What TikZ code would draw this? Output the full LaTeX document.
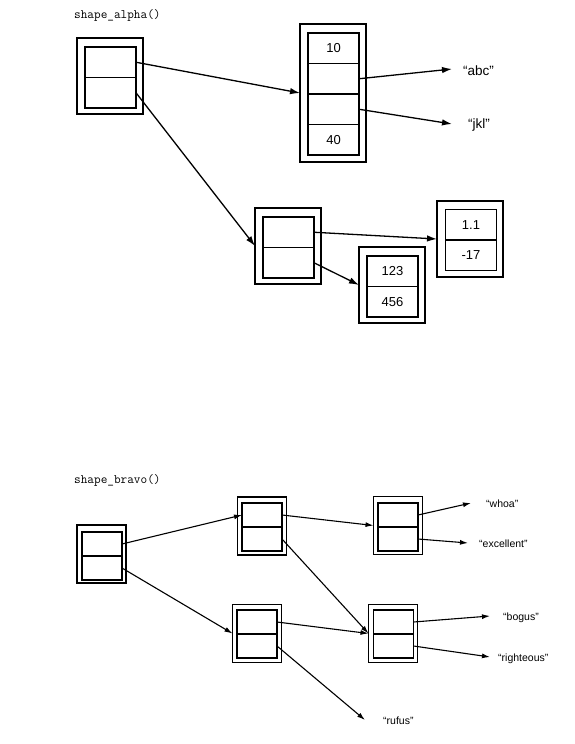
\documentclass[tikz,border=0pt]{standalone}
\usepackage{fontspec}
\setmainfont{Liberation Sans}
\usetikzlibrary{arrows.meta}
\begin{document}
\begin{tikzpicture}[x=1pt,y=-1pt,
  aout/.style={draw,line width=1.7pt,minimum width=66pt,minimum height=76pt,inner sep=0pt,outer sep=0pt},
  acell/.style={draw,line width=1.7pt,minimum width=51pt,minimum height=30.5pt,inner sep=0pt,outer sep=0pt,font=\fontsize{13}{15}\selectfont},
  bout/.style={draw,line width=1.4pt,minimum width=49pt,minimum height=58pt,inner sep=0pt,outer sep=0pt},
  bcell/.style={draw,line width=1.4pt,minimum width=40pt,minimum height=24pt,inner sep=0pt,outer sep=0pt},
  aarr/.style={line width=1.3pt,-{Latex[length=10pt,width=6.5pt]}},
  barr/.style={line width=1.1pt,-{Latex[length=8pt,width=5pt]}},
  alab/.style={anchor=base west,inner sep=0pt,font=\fontsize{13.5}{15}\selectfont},
  blab/.style={anchor=base west,inner sep=0pt,font=\fontsize{10.5}{12}\selectfont},
  title/.style={anchor=base west,inner sep=0pt,font=\ttfamily\fontsize{12.9}{14}\selectfont}]
\useasboundingbox (0,0) rectangle (575,744);

% ---------- shape_alpha ----------
\node[title] (t1) at (74,18) {shape\_alpha()};

\node[aout] (Ao) at (110,76) {};
\node[acell] (A1) at (110.5,62.25) {};
\node[acell] (A2) at (110.5,92.75) {};

\node[aout,minimum height=138pt] (Bo) at (333,93) {};
\node[acell] (B1) at (333.5,48.25) {10};
\node[acell] (B2) at (333.5,78.75) {};
\node[acell] (B3) at (333.5,109.25) {};
\node[acell] (B4) at (333.5,139.75) {40};

\node[aout] (Co) at (288,246) {};
\node[acell] (C1) at (288.5,232.25) {};
\node[acell] (C2) at (288.5,262.75) {};

\node[aout] (Do) at (470,239) {};
\node[acell] (D1) at (471,224.75) {1.1};
\node[acell] (D2) at (471,255.25) {-17};

\node[aout] (Eo) at (392,285) {};
\node[acell] (E1) at (392.5,271.25) {123};
\node[acell] (E2) at (392.5,301.75) {456};

\node[alab] (abc) at (463,75) {“abc”};
\node[alab] (jkl) at (468,128) {“jkl”};
\coordinate (abcT) at (452,69);
\coordinate (jklT) at (452,124);

\draw[aarr] (A1.east) -- (Bo.west);
\draw[aarr] (A2.east) -- (Co.west);
\draw[aarr] (B2.east) -- (abcT);
\draw[aarr] (B3.east) -- (jklT);
\draw[aarr] (C1.east) -- (Do.west);
\draw[aarr] (C2.east) -- (Eo.west);

% ---------- shape_bravo ----------
\node[title] (t2) at (74,483) {shape\_bravo()};

\node[bout] (Fo) at (101.5,554) {};
\node[bcell] (F1) at (102,544) {};
\node[bcell] (F2) at (102,568) {};

\node[bout] (Go) at (262,526) {};
\node[bcell] (G1) at (262,515) {};
\node[bcell] (G2) at (262,539) {};

\node[bout] (Ho) at (398,525.5) {};
\node[bcell] (H1) at (398,515) {};
\node[bcell] (H2) at (398,539) {};

\node[bout] (Io) at (257,633.5) {};
\node[bcell] (I1) at (257,622) {};
\node[bcell] (I2) at (257,646) {};

\node[bout] (Jo) at (393,633.5) {};
\node[bcell] (J1) at (393.5,622) {};
\node[bcell] (J2) at (393.5,646) {};

\node[blab] (whoa) at (486,507) {“whoa”};
\node[blab] (excellent) at (479,547) {“excellent”};
\node[blab] (bogus) at (503,620) {“bogus”};
\node[blab] (righteous) at (498,661) {“righteous”};
\node[blab] (rufus) at (383,724) {“rufus”};
\coordinate (whoaT) at (471,503);
\coordinate (excT) at (468,543);
\coordinate (bogT) at (490,616);
\coordinate (rigT) at (490,657);
\coordinate (rufT) at (365,720);

\draw[barr] (F1.east) -- (G1.west);
\draw[barr] (F2.east) -- (Io.west);
\draw[barr] (G1.east) -- (Ho.west);
\draw[barr] (G2.east) -- (Jo.west);
\draw[barr] (I1.east) -- (Jo.west);
\draw[barr] (I2.east) -- (rufT);
\draw[barr] (H1.east) -- (whoaT);
\draw[barr] (H2.east) -- (excT);
\draw[barr] (J1.east) -- (bogT);
\draw[barr] (J2.east) -- (rigT);
\end{tikzpicture}
\end{document}
